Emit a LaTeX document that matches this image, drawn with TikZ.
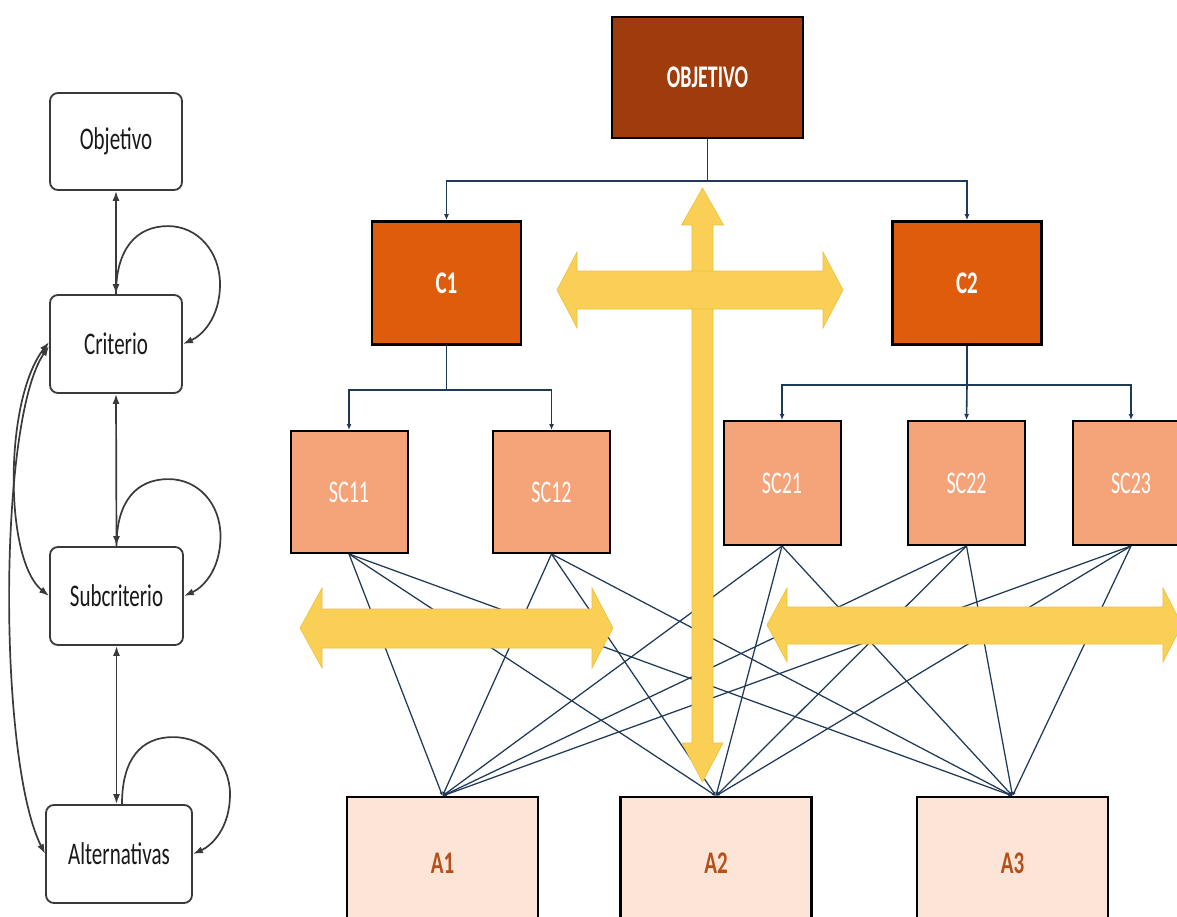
\documentclass[tikz,border=0pt]{standalone}
\usepackage{fontspec}
\setmainfont{Carlito}
\usetikzlibrary{arrows.meta,calc}
\definecolor{objfill}{HTML}{A03C0C}
\definecolor{cfill}{HTML}{DE5C0C}
\definecolor{scfill}{HTML}{F5A479}
\definecolor{afill}{HTML}{FCE4D6}
\definecolor{atext}{HTML}{B5501A}
\definecolor{conncol}{HTML}{1F3A56}
\definecolor{leftcol}{HTML}{3A3A3A}
\definecolor{yelfill}{HTML}{F9D055}
\definecolor{yeledge}{HTML}{EDBF3A}
\newcommand\tallt[2][1]{\scalebox{#1}[1.5]{#2}}
\begin{document}
\begin{tikzpicture}[x=1pt,y=1pt,
  lbox/.style={draw=leftcol,line width=1.8pt,rounded corners=8pt,fill=white,inner sep=0pt,
     font=\fontsize{21}{23}\selectfont,text=black!90},
  rbox/.style={draw=black,line width=2.6pt,inner sep=0pt,font=\bfseries\fontsize{21}{23}\selectfont},
  objbox/.style={rbox,fill=objfill,minimum width=191pt,minimum height=121pt,text=white},
  cbox/.style={rbox,fill=cfill,minimum width=149pt,minimum height=123pt,text=white},
  scbox/.style={rbox,line width=2pt,fill=scfill,minimum width=117pt,minimum height=122pt,
     font=\fontsize{21}{23}\selectfont,text=white},
  abox/.style={rbox,line width=2.2pt,fill=afill,minimum width=191pt,minimum height=132pt,text=atext},
  larr/.style={draw=leftcol,line width=1.7pt,{Latex[length=10pt,width=7pt]}-{Latex[length=10pt,width=7pt]}},
  lloop/.style={draw=leftcol,line width=1.7pt,-{Latex[length=10pt,width=7pt]}},
  conn/.style={draw=conncol,line width=1.6pt,-{Latex[length=6pt,width=5pt]}},
  web/.style={draw=conncol,line width=1.25pt,-{Latex[length=4pt,width=3.5pt]}},
  yel/.style={fill=yelfill,draw=yeledge,line width=0.6pt}
]
\useasboundingbox (0,0) rectangle (1177,-917);
\fill[white] (0,0) rectangle (1177,-917);

% ---------------- left column ----------------
\node[lbox,minimum width=132pt,minimum height=97pt] (lobj) at (116,-141.5) {\tallt{Objetivo}};
\node[lbox,minimum width=132pt,minimum height=98pt] (lcrit) at (116,-344) {\tallt{Criterio}};
\node[lbox,minimum width=133pt,minimum height=98pt] (lsub) at (116.5,-596) {\tallt{Subcriterio}};
\node[lbox,minimum width=146pt,minimum height=98pt] (lalt) at (119,-854) {\tallt{Alternativas}};

\draw[larr] (lobj.south) -- (lcrit.north);
\draw[larr] (lcrit.south) -- (lsub.north);
\draw[larr] (lsub.south) -- (lsub.south |- lalt.north);

\draw[lloop] (lcrit.north) .. controls +(0,45) and +(-32,0) .. ($(lcrit.north)+(52,68)$)
   .. controls +(30,0) and +(0,32) .. ($(lcrit.north)+(104,10)$)
   .. controls +(0,-35) and +(18,8) .. (lcrit.east);
\draw[lloop] (lsub.north) .. controls +(0,45) and +(-32,0) .. ($(lsub.north)+(52,67)$)
   .. controls +(30,0) and +(0,32) .. ($(lsub.north)+(104,10)$)
   .. controls +(0,-35) and +(18,8) .. (lsub.east);
\draw[lloop] ($(lalt.north)+(3,0)$) .. controls +(0,45) and +(-32,0) .. ($(lalt.north)+(54,67)$)
   .. controls +(32,0) and +(0,32) .. ($(lalt.north)+(111,10)$)
   .. controls +(0,-35) and +(18,8) .. (lalt.east);

\draw[larr] ($(lcrit.west)+(0,2)$) .. controls (4,-400) and (4,-560) .. (lsub.west);
\draw[larr] ($(lcrit.west)+(0,-2)$) .. controls (-2,-420) and (-2,-760) .. (lalt.west);

% ---------------- right hierarchy ----------------
\node[objbox] (obj) at (707.5,-77.5) {\tallt[0.95]{OBJETIVO}};
\node[cbox] (c1) at (446.5,-283) {\tallt{C1}};
\node[cbox] (c2) at (967,-283) {\tallt{C2}};

\node[scbox] (sc11) at (349,-492) {\tallt[0.95]{SC11}};
\node[scbox] (sc12) at (551.5,-492) {\tallt[0.95]{SC12}};
\node[scbox,minimum height=124pt] (sc21) at (782,-483) {\tallt[0.95]{SC21}};
\node[scbox,minimum height=124pt] (sc22) at (966.5,-483) {\tallt[0.95]{SC22}};
\node[scbox,minimum height=124pt] (sc23) at (1131,-483) {\tallt[0.95]{SC23}};

\node[abox] (a1) at (442.5,-863) {\tallt{A1}};
\node[abox] (a2) at (716,-863) {\tallt{A2}};
\node[abox] (a3) at (1012.5,-863) {\tallt{A3}};

\draw[conn,-] (obj.south) -- ++(0,-42) coordinate (hub);
\draw[conn] (hub) -| (c1.north);
\draw[conn] (hub) -| (c2.north);
\draw[conn,-] (c1.south) -- ++(0,-44) coordinate (h1);
\draw[conn] (h1) -| (sc11.north);
\draw[conn] (h1) -| (sc12.north);
\draw[conn,-] (c2.south) -- ++(0,-39) coordinate (h2);
\draw[conn] (h2) -| (sc21.north);
\draw[conn] (h2) -- (sc22.north);
\draw[conn] (h2) -| (sc23.north);

\foreach \s in {sc11,sc12,sc21,sc22,sc23}
  \foreach \a in {a1,a2,a3}
    \draw[web] (\s.south) -- (\a.north);

% ---------------- yellow arrows ----------------
\path[yel] (702.5,-188) -- (723.5,-225) -- (713,-225) -- (713,-743) -- (723,-743)
  -- (702.5,-782) -- (682,-743) -- (692,-743) -- (692,-225) -- (681.5,-225) -- cycle;
\path[yel] (557,-290) -- (577,-252) -- (577,-271) -- (823,-271) -- (823,-252) -- (843,-290)
  -- (823,-328) -- (823,-309) -- (577,-309) -- (577,-328) -- cycle;
\path[yel] (300,-628) -- (322,-588) -- (322,-609) -- (592,-609) -- (592,-588) -- (613,-628)
  -- (592,-668) -- (592,-648) -- (322,-648) -- (322,-668) -- cycle;
\path[yel] (767,-625) -- (787,-588) -- (787,-607) -- (1163,-607) -- (1163,-588) -- (1182,-625)
  -- (1163,-662) -- (1163,-644) -- (787,-644) -- (787,-662) -- cycle;
\end{tikzpicture}
\end{document}
